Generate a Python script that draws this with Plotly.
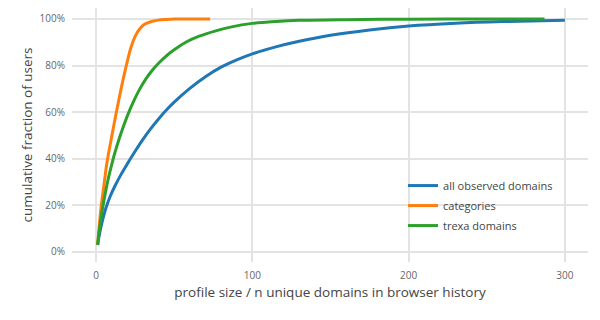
import plotly.graph_objects as go

# --- data ---
all_x = [1, 2, 4, 6, 9, 12, 16, 20, 25, 30, 35, 40, 45, 50, 60, 70, 80, 90, 100, 115, 130, 150, 175, 200, 230, 260, 300]
all_y = [3, 7, 13.2, 18.2, 23.8, 28.2, 33.3, 37.8, 43.2, 48.3, 52.9, 57.1, 60.9, 64.3, 70.2, 75.2, 79.3, 82.4, 85, 88, 90.4, 93, 95.3, 97, 98.2, 98.9, 99.4]

cat_x = [1, 2, 3, 4, 5, 7, 10, 13, 16, 19, 22, 25, 28, 31, 35, 40, 45, 50, 60, 73]
cat_y = [3, 11, 18, 23.5, 28.5, 38.5, 49.5, 60, 70, 79, 87, 92.5, 95.8, 97.7, 98.8, 99.5, 99.8, 100, 100, 100]

trexa_x = [1, 2, 4, 6, 8, 10, 12, 15, 18, 21, 24, 28, 32, 36, 40, 45, 50, 58, 66, 76, 86, 100, 115, 130, 160, 200, 250, 287]
trexa_y = [3, 9, 18, 25.5, 32, 37.5, 42.5, 49, 54.8, 60, 64.6, 70, 74.4, 78, 81, 84.2, 86.8, 90.2, 92.6, 94.8, 96.5, 98.1, 98.9, 99.4, 99.7, 99.9, 100, 100]

series_names = ["all observed domains", "categories", "trexa domains"]
colors = ["#1f77b4", "#ff7f0e", "#2ca02c"]

x_ticks = [0, 100, 200, 300]
y_ticks = [0, 0.2, 0.4, 0.6, 0.8, 1.0]

FONT = "Open Sans"

fig = go.Figure()
for i, (name, xs, ys, c) in enumerate(zip(series_names, [all_x, cat_x, trexa_x], [all_y, cat_y, trexa_y], colors)):
    fig.add_trace(go.Scatter(
        x=xs, y=[v / 100 for v in ys], mode="lines", name=name, legendgroup=f"g{i}",
        line=dict(color=c, width=3, shape="spline", smoothing=0.8),
    ))

# white box behind the legend, hiding the grid lines there
fig.add_shape(type="rect", xref="paper", yref="paper",
              x0=0.651, x1=0.963, y0=0.055, y1=0.441,
              fillcolor="white", line=dict(width=0), layer="between")

fig.update_layout(
    width=600, height=320,
    margin=dict(l=72, r=12, t=8, b=58),
    paper_bgcolor="white", plot_bgcolor="white",
    font=dict(family=FONT, size=11, color="#555"),
    showlegend=True,
    legend=dict(
        x=0.6415, y=0.358, xanchor="left", yanchor="top",
        bgcolor="rgba(0,0,0,0)", font=dict(family=FONT, size=11, color="#444"),
        traceorder="grouped", tracegroupgap=1,
    ),
)
fig.update_xaxes(
    range=[-15.4, 314.8], tickvals=x_ticks, showgrid=True, gridcolor="#e3e3e3", gridwidth=1.5,
    zeroline=False, showline=False, ticks="outside", ticklen=4, tickcolor="rgba(0,0,0,0)",
    tickfont=dict(size=10, color="#666"),
    title=dict(text="profile size / n unique domains in browser history", font=dict(size=13.5, color="#444"), standoff=6),
)
fig.update_yaxes(
    range=[-0.043, 1.047], tickvals=y_ticks, tickformat=".0%", showgrid=True, gridcolor="#e3e3e3", gridwidth=1.5,
    zeroline=False, showline=False, ticks="outside", ticklen=4, tickcolor="rgba(0,0,0,0)",
    tickfont=dict(size=10, color="#666"),
    title=dict(text="cumulative fraction of users", font=dict(size=13.5, color="#444"), standoff=3),
)

fig.write_html("out.html")
